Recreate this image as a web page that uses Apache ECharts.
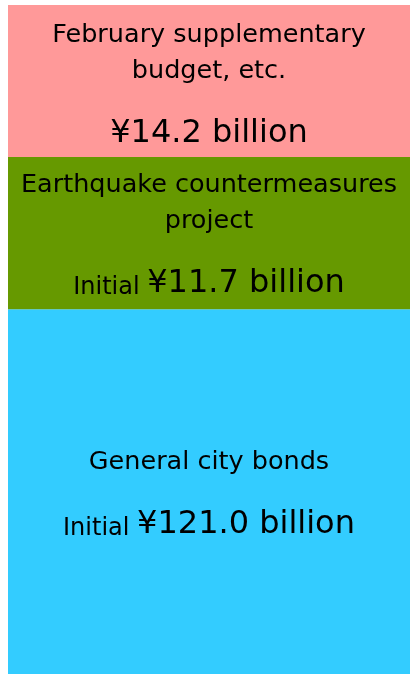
<!DOCTYPE html>
<html>
<head>
<meta charset="utf-8">
<title>City budget funding sources</title>
<script src="https://cdn.jsdelivr.net/npm/echarts@6/dist/echarts.min.js"></script>
<style>
  html, body { margin: 0; padding: 0; background: #ffffff; }
  #chart { width: 410px; height: 675px; }
</style>
</head>
<body>
<div id="chart"></div>
<script>
// Funding blocks, listed from the bottom of the stack to the top (¥ billion)
const segmentTitles = [
  'General city bonds',
  'Earthquake countermeasures\nproject',
  'February supplementary\nbudget, etc.'
];
const segmentValues = [121.0, 11.7, 14.2];
const valuePrefixes = ['Initial', 'Initial', ''];
const segmentColors = ['#33CCFF', '#669900', '#FF9999'];
const stackCategory = ['Budget'];

const FONT = '"DejaVu Sans", sans-serif';
// vertical nudge of each block's text, in pixels
const labelNudge = [1, 0.5, 2.5];

function buildLabel(i) {
  const titleLines = segmentTitles[i].split('\n').map(s => '{t|' + s + '}').join('\n');
  const prefix = valuePrefixes[i] ? '{p|' + valuePrefixes[i] + ' }' : '';
  return titleLines + '\n{sp| }\n' + prefix + '{v|¥' + segmentValues[i].toFixed(1) + ' billion}';
}

const chart = echarts.init(document.getElementById('chart'), null, { renderer: 'canvas' });

const series = segmentValues.map((v, i) => ({
  name: segmentTitles[i].replace('\n', ' '),
  type: 'bar',
  stack: 'funding',
  barWidth: '100%',
  clip: true,
  data: [v],
  itemStyle: { color: segmentColors[i] },
  emphasis: { disabled: true },
  label: {
    show: true,
    position: 'inside',
    offset: [0, labelNudge[i]],
    color: '#000',
    formatter: () => buildLabel(i),
    rich: {
      t: { fontFamily: FONT, fontSize: 25.5, lineHeight: 36, color: '#000', align: 'center' },
      sp: { fontFamily: FONT, fontSize: 10, lineHeight: 16, color: '#000' },
      p: { fontFamily: FONT, fontSize: 24, lineHeight: 39, verticalAlign: 'bottom', color: '#000' },
      v: { fontFamily: FONT, fontSize: 32, lineHeight: 44, verticalAlign: 'bottom', color: '#000' }
    }
  }
}));

chart.setOption({
  animation: false,
  backgroundColor: '#ffffff',
  grid: { left: 8, right: 0, top: 5, bottom: 1, containLabel: false },
  xAxis: {
    type: 'category',
    data: stackCategory,
    show: false
  },
  yAxis: {
    type: 'log',
    logBase: 10,
    min: 97,
    max: 145.5,
    show: false,
    splitLine: { show: false }
  },
  series: series
});
</script>
</body>
</html>
